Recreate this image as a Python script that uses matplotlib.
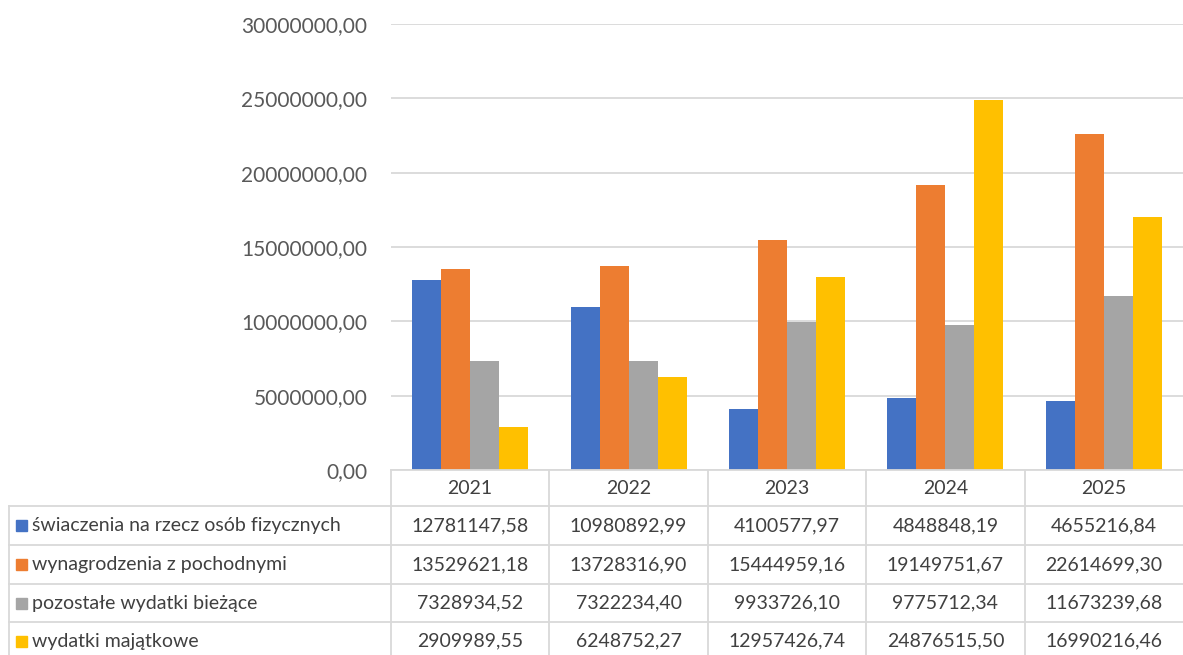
import numpy as np
import matplotlib
matplotlib.use('Agg')
import matplotlib.pyplot as plt
from matplotlib.lines import Line2D
from matplotlib.patches import Rectangle

plt.rcParams['font.family'] = ['Lato', 'DejaVu Sans']

years = ['2021', '2022', '2023', '2024', '2025']
labels = ['świaczenia na rzecz osób fizycznych', 'wynagrodzenia z pochodnymi',
          'pozostałe wydatki bieżące', 'wydatki majątkowe']
swiadczenia = [12781147.58, 10980892.99, 4100577.97, 4848848.19, 4655216.84]
wynagrodzenia = [13529621.18, 13728316.90, 15444959.16, 19149751.67, 22614699.30]
pozostale = [7328934.52, 7322234.40, 9933726.10, 9775712.34, 11673239.68]
majatkowe = [2909989.55, 6248752.27, 12957426.74, 24876515.50, 16990216.46]
series = [swiadczenia, wynagrodzenia, pozostale, majatkowe]
colors = ['#4472C4', '#ED7D31', '#A5A5A5', '#FFC000']

W, H = 1183, 655
fig = plt.figure(figsize=(W / 100, H / 100), dpi=100)

# plot area in pixels
x0, x1 = 391, 1183
y_top, y_zero = 24, 470
ax = fig.add_axes([x0 / W, 1 - y_zero / H, (x1 - x0) / W, (y_zero - y_top) / H])

n = len(years)
x = np.arange(n)
bw = 0.183
for i, (vals, c) in enumerate(zip(series, colors)):
    ax.bar(x + (i - 1.5) * bw, vals, width=bw, color=c, zorder=3)

ax.set_xlim(-0.5, n - 0.5)
ax.set_ylim(0, 30000000)
ticks = np.arange(0, 30000001, 5000000)
ax.set_yticks(ticks)
ax.set_yticklabels([f'{v:.2f}'.replace('.', ',') for v in ticks],
                   fontsize=15, color='#595959')
ax.tick_params(axis='y', length=0, pad=17)
ax.set_xticks([])
ax.grid(axis='y', color='#D9D9D9', linewidth=1.3, zorder=0)
for s in ax.spines.values():
    s.set_visible(False)


def fx(px):
    return px / W


def fy(py):
    return 1 - py / H


# data table
line_c = '#D9D9D9'
col_w = (x1 - x0) / n
col_x = [x0 + k * col_w for k in range(n + 1)]
rows_y = [470, 506, 545, 584, 622, 660]
left = 9

fig.add_artist(Line2D([fx(x0), fx(x1)], [fy(rows_y[0])] * 2, color=line_c, lw=1.3))
for yy in rows_y[1:5]:
    fig.add_artist(Line2D([fx(left), fx(x1)], [fy(yy)] * 2, color=line_c, lw=1.3))
for xx in col_x[:-1]:
    fig.add_artist(Line2D([fx(xx)] * 2, [fy(rows_y[0]), fy(H + 5)], color=line_c, lw=1.3))
fig.add_artist(Line2D([fx(left)] * 2, [fy(rows_y[1]), fy(H + 5)], color=line_c, lw=1.3))

txt_c = '#404040'
fs = 14
for k, yr in enumerate(years):
    fig.text(fx(col_x[k] + col_w / 2), fy((rows_y[0] + rows_y[1]) / 2), yr,
             ha='center', va='center', fontsize=fs, color=txt_c)

for r, (lab, vals, c) in enumerate(zip(labels, series, colors)):
    ym = (rows_y[r + 1] + rows_y[r + 2]) / 2
    fig.add_artist(Rectangle((fx(16), fy(ym + 5.5)), 11 / W, 11 / H,
                             transform=fig.transFigure, color=c))
    fig.text(fx(32), fy(ym), lab, ha='left', va='center', fontsize=fs, color=txt_c)
    for k, v in enumerate(vals):
        fig.text(fx(col_x[k] + col_w / 2), fy(ym), f'{v:.2f}'.replace('.', ','),
                 ha='center', va='center', fontsize=fs, color=txt_c)

fig.savefig('out.png', dpi=100)
